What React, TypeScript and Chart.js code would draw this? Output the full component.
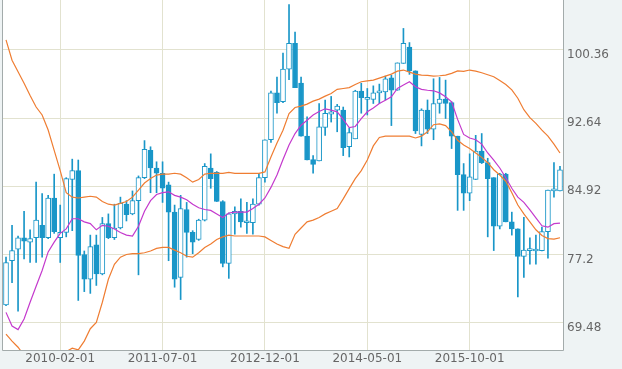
import React, { useEffect, useRef } from 'react';
import { Chart, registerables } from 'chart.js';

Chart.register(...registerables);

// ---- data (monthly candles, first month 2009-05) ----
const startYear = 2009;
const startMonth = 5;

const opens = [
  71.5, 76.5, 77.8, 79.1, 78.6, 79.1, 80.5, 79.1, 83.6, 79.1,
  79.7, 85.7, 86.7, 77.2, 74.4, 78.3, 75.0, 80.7, 79.1, 80.2,
  82.9, 81.8, 83.3, 85.9, 89.0, 87.0, 86.4, 85.1, 82.0, 74.6,
  82.3, 79.7, 78.9, 81.1, 87.0, 86.5, 83.2, 76.2, 81.8, 82.1,
  80.8, 80.8, 82.9, 85.9, 90.2, 95.5, 94.5, 98.2, 101.1, 96.6,
  90.6, 87.95, 87.8, 91.6, 93.1, 93.55, 93.55, 89.4, 90.3, 95.7,
  94.76, 94.76, 95.5, 95.6, 97.2, 95.8, 98.85, 100.7, 98.0, 90.8,
  93.55, 91.4, 94.3, 94.8, 94.4, 90.6, 86.25, 84.16, 85.7, 88.9,
  87.6, 85.9, 80.4, 86.3, 80.9, 80.1, 77.0, 77.65, 77.6, 77.65,
  79.8, 84.4, 84.4,
];
const highs = [
  76.9, 80.5, 79.3, 82.1, 80.0, 85.4, 84.1, 83.9, 86.3, 82.8,
  85.9, 88.0, 87.9, 77.6, 79.4, 79.4, 81.4, 81.8, 82.9, 83.7,
  83.3, 84.4, 86.1, 90.1, 89.4, 87.7, 87.7, 85.4, 82.8, 83.9,
  83.1, 79.9, 81.2, 87.5, 88.6, 86.6, 83.3, 81.9, 82.6, 83.5,
  83.1, 83.5, 86.4, 90.2, 95.7, 97.3, 100.0, 105.5, 102.4, 97.3,
  92.8, 88.4, 94.3, 94.7, 95.1, 94.2, 93.9, 91.5, 95.8, 96.6,
  96.0, 96.3, 96.5, 97.4, 97.5, 98.9, 102.8, 101.2, 98.0, 93.7,
  94.7, 97.1, 97.25, 96.95, 94.5, 90.6, 87.5, 88.6, 90.7, 90.9,
  88.1, 85.9, 86.4, 86.4, 82.0, 80.1, 81.4, 79.1, 79.4, 80.3,
  84.5, 87.6, 87.2,
];
const lows = [
  71.4, 74.0, 70.8, 76.7, 76.3, 76.3, 76.9, 79.0, 79.6, 76.3,
  79.2, 79.9, 72.0, 73.0, 72.8, 73.7, 74.9, 79.0, 78.9, 80.1,
  81.0, 81.7, 74.9, 85.8, 84.2, 84.2, 83.1, 76.5, 73.5, 72.1,
  76.9, 77.3, 78.8, 81.0, 84.7, 83.2, 75.8, 74.5, 79.5, 80.3,
  79.6, 79.5, 82.8, 85.4, 89.9, 93.2, 94.4, 97.0, 96.1, 90.6,
  87.9, 86.4, 87.8, 90.7, 92.2, 91.1, 88.4, 88.25, 90.3, 93.2,
  93.0, 94.3, 94.3, 94.7, 91.8, 95.8, 98.85, 97.6, 90.9, 89.5,
  90.9, 90.2, 93.2, 92.6, 89.2, 82.2, 82.2, 83.3, 85.7, 87.5,
  79.2, 77.65, 80.1, 80.9, 79.4, 72.4, 74.6, 76.1, 76.1, 77.6,
  76.8, 83.7, 84.4,
];
const closes = [
  76.3, 77.65, 79.1, 78.7, 79.0, 81.1, 79.1, 83.6, 79.8, 79.7,
  85.8, 86.7, 77.1, 74.4, 78.1, 75.0, 80.7, 79.1, 80.2, 83.0,
  81.7, 83.3, 85.9, 89.1, 87.0, 86.4, 84.7, 82.0, 74.4, 82.4,
  79.7, 78.6, 81.1, 87.2, 85.8, 83.2, 76.2, 81.8, 82.1, 80.9,
  81.0, 82.9, 85.9, 90.2, 95.5, 94.4, 98.2, 101.1, 96.1, 90.6,
  87.9, 87.4, 91.65, 93.2, 93.35, 94.0, 89.3, 91.0, 95.7, 94.95,
  94.95, 95.5, 95.7, 97.1, 95.8, 98.9, 101.1, 98.0, 91.2, 93.55,
  91.4, 94.3, 94.8, 94.3, 90.6, 86.25, 84.16, 86.0, 88.9, 87.6,
  85.8, 80.4, 86.3, 80.9, 80.1, 77.0, 77.7, 77.85, 77.7, 79.8,
  84.5, 84.5, 86.8,
];
const upperBand = [
  101.5, 99.2, 97.9, 96.6, 95.2, 93.9, 93.0, 91.3, 89.0, 86.7,
  84.2, 83.7, 83.6, 83.7, 83.8, 83.7, 83.2, 82.9, 82.8, 83.0,
  83.2, 83.7, 84.5, 85.3, 85.8, 86.2, 86.3, 86.3, 86.4, 86.3,
  85.9, 85.4, 85.7, 86.3, 86.4, 86.4, 86.4, 86.5, 86.4, 86.4,
  86.4, 86.4, 86.4, 86.55, 88.25, 89.84, 91.28, 93.17, 93.85, 94.0,
  94.23, 94.57, 94.8, 95.14, 95.44, 95.9, 96.0, 96.1, 96.46, 96.76,
  96.87, 96.95, 97.18, 97.4, 97.63, 97.97, 98.09, 97.86, 97.63, 97.52,
  97.48, 97.4, 97.44, 97.52, 97.71, 98.0, 97.93, 98.09, 97.97, 97.78,
  97.55, 97.33, 96.9, 96.46, 95.85, 94.9, 93.6, 92.7, 92.05, 91.28,
  90.6, 89.7, 88.7,
];
const middleBand = [
  70.65, 69.1, 68.7, 69.9, 71.8, 73.6, 75.4, 77.5, 78.6, 79.6,
  80.1, 81.25, 81.25, 80.9, 80.7, 80.0, 80.5, 80.4, 80.1, 79.7,
  79.4, 79.3, 80.4, 82.1, 83.3, 84.0, 84.2, 84.3, 83.9, 83.7,
  83.4, 82.9, 82.5, 82.3, 82.2, 81.8, 81.4, 81.9, 82.0, 82.0,
  82.0, 82.4, 82.9, 83.6, 84.8, 86.2, 87.95, 89.6, 90.9, 91.84,
  92.41, 93.0, 93.4, 93.7, 93.55, 93.36, 92.5, 91.58, 91.7, 92.6,
  93.36, 93.8, 94.3, 94.68, 95.06, 96.0, 96.4, 96.76, 96.2, 95.9,
  95.8, 95.74, 95.5, 95.06, 94.49, 92.5, 90.8, 90.4, 90.2, 89.7,
  88.7, 87.9, 87.0, 85.9, 84.7, 83.7, 83.1, 82.25, 81.35, 80.45,
  80.3, 80.7, 80.75,
];
const lowerBand = [
  68.2, 67.4, 66.7, 65.8, 65.0, 64.3, 63.8, 63.6, 63.7, 64.5,
  66.2, 66.6, 66.4, 67.4, 68.8, 69.5, 71.8, 74.4, 76.1, 76.9,
  77.2, 77.3, 77.3, 77.4, 77.6, 77.9, 78.0, 78.0, 77.7, 77.4,
  77.0, 76.9, 77.4, 78.0, 78.4, 78.9, 79.2, 79.4, 79.3, 79.3,
  79.3, 79.3, 79.3, 79.2, 78.8, 78.4, 78.1, 77.9, 79.5, 80.2,
  80.9, 81.1, 81.4, 81.8, 82.1, 82.4, 83.5, 84.66, 85.8, 86.7,
  87.9, 89.5, 90.45, 90.6, 90.6, 90.6, 90.6, 90.6, 90.4, 90.6,
  91.1, 91.9, 92.0, 91.8, 91.1, 90.14, 89.6, 89.2, 88.7, 88.2,
  87.6, 86.8, 86.2, 85.5, 84.2, 82.8, 81.8, 80.9, 80.0, 79.36,
  79.0, 78.95, 79.1,
];

const yTicks = [69.48, 77.2, 84.92, 92.64, 100.36];
const yMin = 66.39;
const yMax = 106.02;
const xTickLabels = ['2010-02-01', '2011-07-01', '2012-12-01', '2014-05-01', '2015-10-01'];

const categories = opens.map((_, i) => {
  const m = startMonth - 1 + i;
  const y = startYear + Math.floor(m / 12);
  const mm = (m % 12) + 1;
  return `${y}-${String(mm).padStart(2, '0')}-01`;
});

// ---- styles ----
const BLUE = '#1996c8';
const ORANGE = '#ef7d32';
const MAGENTA = '#c43acd';
const GRID = '#e2e2cf';
const PAGE_BG = '#eef3f4';
const TEXT = '#666666';
const FONT = { family: '"DejaVu Sans", Verdana, sans-serif', size: 12 };

const framePlugin = {
  id: 'frame',
  beforeDraw(chart: any) {
    const { ctx, chartArea: a } = chart;
    ctx.save();
    ctx.fillStyle = PAGE_BG;
    ctx.fillRect(0, 0, chart.width, chart.height);
    ctx.fillStyle = '#ffffff';
    ctx.fillRect(a.left, a.top, a.right - a.left, a.bottom - a.top);
    ctx.restore();
  },
  afterDraw(chart: any) {
    const { ctx, chartArea: a } = chart;
    ctx.save();
    ctx.strokeStyle = '#a3abab';
    ctx.lineWidth = 1;
    ctx.beginPath();
    ctx.moveTo(a.left - 0.5, a.top);
    ctx.lineTo(a.left - 0.5, a.bottom + 0.5);
    ctx.lineTo(a.right + 0.5, a.bottom + 0.5);
    ctx.lineTo(a.right + 0.5, a.top);
    ctx.stroke();
    ctx.restore();
  },
};

const zeroPad = (s: any) => {
  s.paddingTop = 0;
  s.paddingBottom = 0;
  s.paddingLeft = 0;
  s.paddingRight = 0;
};

export default function App() {
  const canvasRef = useRef<HTMLCanvasElement | null>(null);

  useEffect(() => {
    if (!canvasRef.current) return;
    const bodies = opens.map((o, i) => [Math.min(o, closes[i]), Math.max(o, closes[i])]);
    const bodyFill = opens.map((o, i) => (closes[i] < o ? BLUE : '#ffffff'));
    const wicks = lows.map((l, i) => [l, highs[i]]);

    const lineDs = (data: number[], color: string) => ({
      type: 'line' as const,
      data,
      borderColor: color,
      borderWidth: 1.2,
      pointRadius: 0,
      tension: 0,
      fill: false,
      order: 0,
    });

    const chart = new Chart(canvasRef.current, {
      type: 'bar',
      data: {
        labels: categories,
        datasets: [
          lineDs(upperBand, ORANGE),
          lineDs(middleBand, MAGENTA),
          lineDs(lowerBand, ORANGE),
          {
            type: 'bar',
            data: bodies as any,
            backgroundColor: bodyFill,
            borderColor: BLUE,
            borderWidth: 1,
            borderSkipped: false,
            barThickness: 5,
            minBarLength: 2,
            grouped: false,
            order: 1,
          } as any,
          {
            type: 'bar',
            data: wicks as any,
            backgroundColor: BLUE,
            borderWidth: 0,
            barThickness: 1,
            grouped: false,
            order: 2,
          } as any,
        ],
      },
      options: {
        responsive: false,
        animation: false,
        layout: { padding: { left: 3, top: 0, right: 0, bottom: 0 } },
        plugins: { legend: { display: false }, tooltip: { enabled: false } },
        scales: {
          x: {
            type: 'category',
            offset: true,
            grid: { offset: false, color: GRID, drawTicks: false, lineWidth: 1 },
            border: { display: false },
            ticks: { autoSkip: false, maxRotation: 0, padding: 2, color: TEXT, font: FONT },
            afterBuildTicks: (s: any) => {
              s.ticks = s.ticks.filter((t: any) => xTickLabels.includes(categories[t.value]));
            },
            afterFit: (s: any) => {
              s.height = 19;
              zeroPad(s);
            },
          },
          y: {
            position: 'right',
            min: yMin,
            max: yMax,
            grid: { color: GRID, drawTicks: false, lineWidth: 1 },
            border: { display: false },
            ticks: {
              padding: 4,
              labelOffset: 5,
              color: TEXT,
              font: FONT,
              callback: (v: any) => String(v),
            },
            afterBuildTicks: (s: any) => {
              s.ticks = yTicks.map((v) => ({ value: v }));
            },
            afterFit: (s: any) => {
              s.width = 59;
              zeroPad(s);
            },
          },
        },
      } as any,
      plugins: [framePlugin],
    });
    return () => chart.destroy();
  }, []);

  return (
    <div style={{ position: 'absolute', left: 0, top: 0, width: 622, height: 369, background: PAGE_BG }}>
      <canvas ref={canvasRef} width={622} height={369} style={{ display: 'block' }} />
    </div>
  );
}
